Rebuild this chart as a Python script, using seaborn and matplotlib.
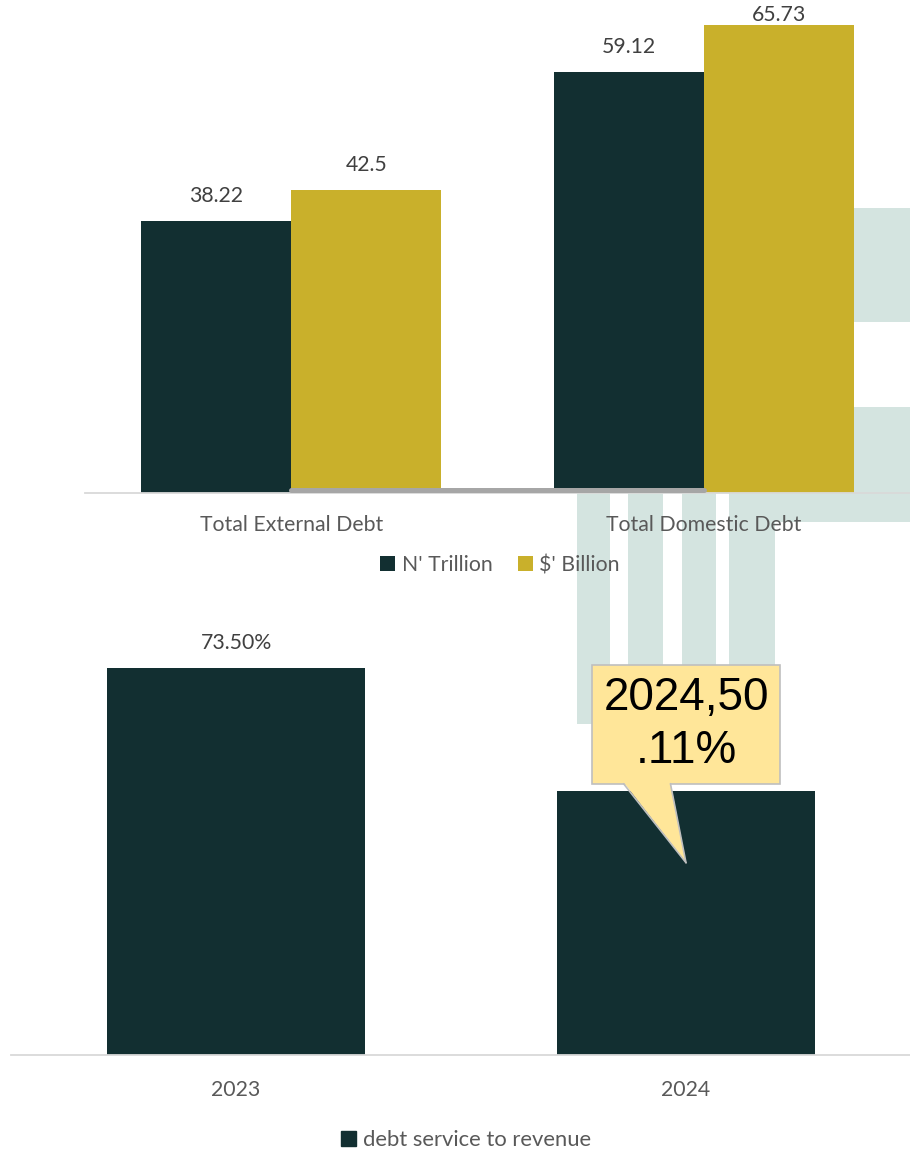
"""
Deuda pública: barras agrupadas + ratio servicio de deuda / ingresos
"""
import matplotlib
matplotlib.use("Agg")
import matplotlib.pyplot as plt
from matplotlib.patches import Rectangle, Patch, Polygon
from matplotlib.lines import Line2D
from matplotlib.transforms import IdentityTransform
import seaborn as sns
import pandas as pd

# datos
categories = ["Total External Debt", "Total Domestic Debt"]
units = ["N' Trillion", "$' Billion"]
naira_trillion = [38.22, 59.12]
dollar_billion = [42.5, 65.73]

years = ["2023", "2024"]
debt_service_ratio = [73.50, 50.11]
ratio_series = "debt service to revenue"

DARK = "#122F31"
GOLD = "#C9B02B"
WM = "#D4E4E0"
TXT = "#595959"
CALL_FC = "#FFE699"
CALL_EC = "#BFBFBF"

sns.set_theme(style="white")
plt.rcParams["font.family"] = ["Lato", "DejaVu Sans"]

W, H = 910, 1151
fig = plt.figure(figsize=(W / 100, H / 100), dpi=100)


def px_rect(x0, y0, x1, y1):
    # rectangulo decorativo (marca de agua) en pixeles de la figura
    r = Rectangle((x0 / W, 1 - y1 / H), (x1 - x0) / W, (y1 - y0) / H,
                  transform=fig.transFigure, facecolor=WM, lw=0, zorder=-1)
    fig.add_artist(r)


# marca de agua del fondo
px_rect(852, 208, 910, 322)
px_rect(729, 407, 910, 522)
for x0, x1 in [(577, 610), (628, 663), (682, 716), (729, 775)]:
    px_rect(x0, 470, x1, 724)


def style_axis(ax):
    ax.set_facecolor("none")
    for s in ["top", "left", "right"]:
        ax.spines[s].set_visible(False)
    ax.spines["bottom"].set_color("#D9D9D9")
    ax.spines["bottom"].set_linewidth(1.3)
    ax.set_yticks([])
    ax.set_xlabel("")
    ax.set_ylabel("")
    ax.tick_params(axis="x", length=0, labelsize=15.3, labelcolor=TXT)


# --- grafico superior ---
ax1 = fig.add_axes([85 / W, 1 - 493 / H, 825 / W, 493 / H])
df_top = pd.DataFrame({
    "category": categories * 2,
    "unit": [units[0]] * len(categories) + [units[1]] * len(categories),
    "value": naira_trillion + dollar_billion,
})
sns.barplot(data=df_top, x="category", y="value", hue="unit",
            palette=[DARK, GOLD], width=0.727, saturation=1,
            linewidth=0, ax=ax1)
top1 = 69.2
ax1.set_xlim(-0.5, len(categories) - 0.5)
ax1.set_ylim(0, top1)
style_axis(ax1)
ax1.tick_params(axis="x", pad=16)

for cont in ax1.containers:
    for bar in cont:
        v = bar.get_height()
        y = min(v + 3.5, top1 - 2.1)
        ax1.text(bar.get_x() + bar.get_width() / 2, y, f"{v:g}",
                 ha="center", va="center", fontsize=15.3, color="#404040")

# linea gris en la base
ax1.plot([0, 1], [0.42, 0.42], color="#A6A6A6", lw=3.6,
         solid_capstyle="round", zorder=3)

h, l = ax1.get_legend_handles_labels()
ax1.legend(h, l, loc="center", bbox_to_anchor=(500 / W, 1 - 565 / H),
           bbox_transform=fig.transFigure, ncol=2, frameon=False,
           handlelength=0.7, handleheight=0.7, handletextpad=0.3,
           columnspacing=1.2, fontsize=15.3, labelcolor=TXT)

# --- grafico inferior ---
ax2 = fig.add_axes([11 / W, 1 - 1055 / H, 900 / W, 455 / H])
sns.barplot(x=years, y=debt_service_ratio, color=DARK, width=0.573,
            saturation=1, linewidth=0, ax=ax2)
top2 = 86.4
ax2.set_xlim(-0.5, len(years) - 0.5)
ax2.set_ylim(0, top2)
style_axis(ax2)
ax2.tick_params(axis="x", pad=18)

ax2.text(0, debt_service_ratio[0] + 4.8, f"{debt_service_ratio[0]:.2f}%",
         ha="center", va="center", fontsize=15.3, color="#404040")

# etiqueta tipo globo para 2024
label = f"{years[1]},{debt_service_ratio[1]:.2f}%"
tip = (1, debt_service_ratio[1] - 13.6)
ann = ax2.text(1, 62.8, label[:7] + "\n" + label[7:],
               ha="center", va="center", fontsize=33, linespacing=1.26,
               family=["Liberation Sans", "DejaVu Sans"], color="black",
               bbox=dict(boxstyle="square,pad=0.24", fc=CALL_FC, ec=CALL_EC, lw=1.2),
               zorder=5)

# puntero del globo (en pixeles, a partir de la caja ya dibujada)
fig.canvas.draw()
bb = ann.get_bbox_patch().get_window_extent()
tx, ty = ax2.transData.transform(tip)
xa = bb.x0 + 0.167 * bb.width
xb = bb.x0 + 0.417 * bb.width
yb = bb.y0
fig.add_artist(Polygon([(xa, yb + 1.5), (xb, yb + 1.5), (tx, ty)],
                       closed=True, fc=CALL_FC, lw=0,
                       transform=IdentityTransform(), zorder=6))
for xs in (xa, xb):
    fig.add_artist(Line2D([xs, tx], [yb, ty], color=CALL_EC, lw=1.2,
                          transform=IdentityTransform(), zorder=7))

ax2.legend([Patch(color=DARK)], [ratio_series], loc="center",
           bbox_to_anchor=(466 / W, 1 - 1140 / H), bbox_transform=fig.transFigure,
           frameon=False, handlelength=0.7, handleheight=0.7, handletextpad=0.3,
           fontsize=15.8, labelcolor=TXT)

fig.savefig("out.png", dpi=100)
